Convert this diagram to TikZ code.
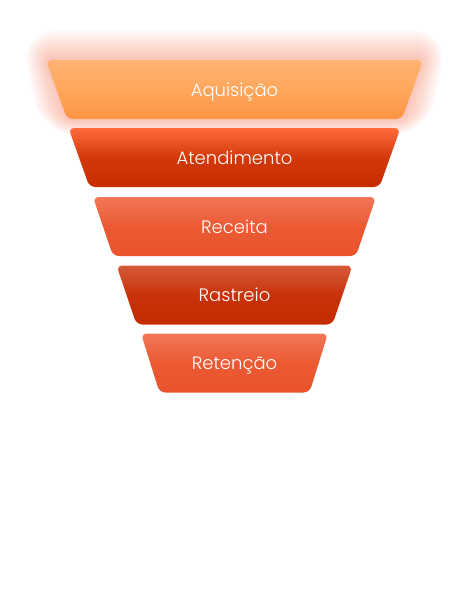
\documentclass[tikz,border=0pt]{standalone}
\usepackage{xcolor}
\usepackage{fontspec}
\setmainfont{Poppins Light}
\definecolor{aqtop}{HTML}{FFB272}
\definecolor{aqmid}{HTML}{FFA75C}
\definecolor{aqbot}{HTML}{FF9445}
\definecolor{attop}{HTML}{FF6B3D}
\definecolor{atmid}{HTML}{D2390A}
\definecolor{atbot}{HTML}{C82C00}
\definecolor{retop}{HTML}{F27658}
\definecolor{remid}{HTML}{EB5A33}
\definecolor{rebot}{HTML}{E9532B}
\definecolor{rstop}{HTML}{D65A3A}
\definecolor{rsmid}{HTML}{C8320A}
\definecolor{rsbot}{HTML}{C42C00}
\definecolor{glowred}{HTML}{F26A4A}
\tikzstyle{label} = [text=white, font=\fontsize{18}{20}\selectfont, anchor=base]
\tikzstyle{glow} = [fill=glowred, opacity=0.025]
% \funnelstage{name}{centre y}{top width}{slant}{top colour}{middle colour}{bottom colour}{text}
\newcommand\funnelstage[8]{%
  \shade[top color=#5, bottom color=#7, middle color=#6, rounded corners=6pt]
    ({234.5-#3/2},{#2-29.5}) -- ({234.5+#3/2},{#2-29.5})
    -- ({234.5+#3/2-#4},{#2+29.5}) -- ({234.5-#3/2+#4},{#2+29.5}) -- cycle;
  \node (#1) [label] at (234.5,{#2+6.5}) {#8};}

\begin{document}
\begin{tikzpicture}[x=1pt, y=-1pt]
\useasboundingbox (0,0) rectangle (470,594);
\foreach \g in {1,...,20}
  \fill[glow, rounded corners=6pt+1.5pt*\g]
    ({46-1.3*\g},{60-1.5*\g}) -- ({423+1.3*\g},{60-1.5*\g})
    -- ({402+1.3*\g},{119+0.8*\g}) -- ({67-1.3*\g},{119+0.8*\g}) -- cycle;
\funnelstage{aquisicao}{89.5}{377}{21}{aqtop}{aqmid}{aqbot}{Aquisição}
\funnelstage{atendimento}{157.5}{332}{21}{attop}{atmid}{atbot}{Atendimento}
\funnelstage{receita}{226.5}{283}{20}{retop}{remid}{rebot}{Receita}
\funnelstage{rastreio}{295}{236}{20}{rstop}{rsmid}{rsbot}{Rastreio}
\funnelstage{retencao}{363}{187}{18.5}{retop}{remid}{rebot}{Retenção}
\end{tikzpicture}
\end{document}
